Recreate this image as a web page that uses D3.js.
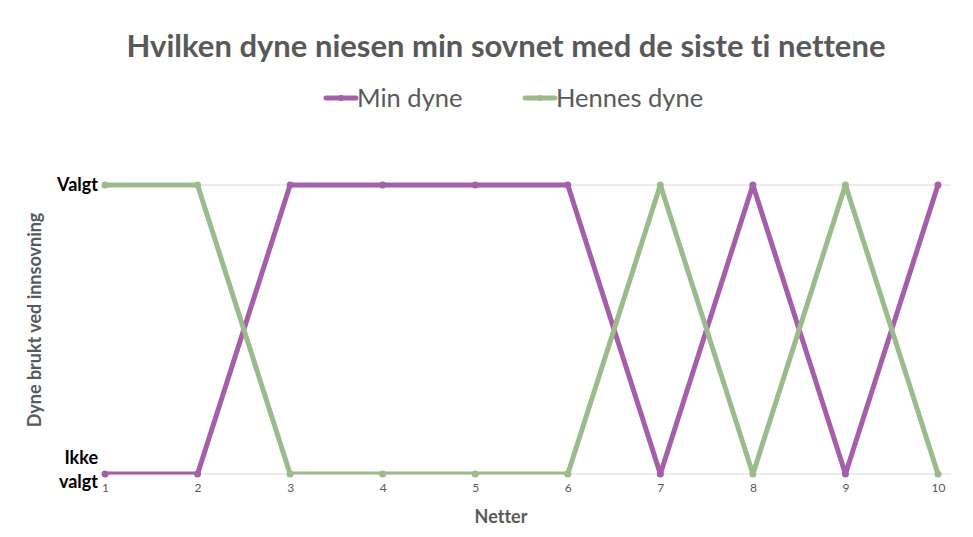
<!DOCTYPE html>
<html>
<head>
<meta charset="utf-8">
<script src="https://cdn.jsdelivr.net/npm/d3@7"></script>
<style>
  html, body { margin: 0; padding: 0; background: #fff; }
  svg { display: block; font-family: Lato, "Open Sans", sans-serif; font-variant-ligatures: none; }
</style>
</head>
<body>
<div id="chart"></div>
<script>
const nights = [1, 2, 3, 4, 5, 6, 7, 8, 9, 10];
const minDyne = [0, 0, 1, 1, 1, 1, 0, 1, 0, 1];
const hennesDyne = [1, 1, 0, 0, 0, 0, 1, 0, 1, 0];
const yLabels = [["Ikke", "valgt"], ["Valgt"]];

const series = [
  { name: "Min dyne", values: minDyne, color: "#a55faa" },
  { name: "Hennes dyne", values: hennesDyne, color: "#9cbb8d" }
];

const width = 973, height = 537;
const plot = { left: 105, right: 938, top: 185, bottom: 474, gridEnd: 951 };

const svg = d3.select("#chart").append("svg")
  .attr("width", width)
  .attr("height", height);

const x = d3.scaleLinear().domain([1, 10]).range([plot.left, plot.right]);
const y = d3.scaleLinear().domain([0, 1]).range([plot.bottom, plot.top]);

// title
svg.append("text")
  .attr("x", 506)
  .attr("y", 57)
  .attr("text-anchor", "middle")
  .attr("fill", "#595959")
  .style("font-size", "31px")
  .style("font-weight", "bold")
  .text("Hvilken dyne niesen min sovnet med de siste ti nettene");

// legend
const legendPos = [326, 525];
const legend = svg.append("g");
series.forEach((s, i) => {
  const g = legend.append("g").attr("transform", `translate(${legendPos[i]},98)`);
  g.append("line")
    .attr("x1", 0).attr("x2", 30)
    .attr("stroke", s.color).attr("stroke-width", 5)
    .attr("stroke-linecap", "round");
  g.append("circle").attr("cx", 15).attr("r", 3).attr("fill", s.color);
  g.append("text")
    .attr("x", 31)
    .attr("y", 9)
    .attr("fill", "#595959")
    .style("font-size", "25.5px")
    .text(s.name);
});

// gridlines
svg.append("g")
  .selectAll("line")
  .data([0, 1])
  .join("line")
  .attr("x1", plot.left)
  .attr("x2", plot.gridEnd)
  .attr("y1", d => y(d))
  .attr("y2", d => y(d))
  .attr("stroke", "#d9d9d9")
  .attr("stroke-width", 1);

// x axis
const xAxis = svg.append("g")
  .attr("transform", `translate(0,${plot.bottom})`)
  .call(d3.axisBottom(x).tickValues(nights).tickSize(0).tickPadding(9).tickFormat(d3.format("d")));
xAxis.select(".domain").remove();
xAxis.selectAll("text")
  .attr("fill", "#595959")
  .style("font-family", "Lato, sans-serif")
  .style("font-size", "12px");

// y axis labels
const yAxis = svg.append("g");
yLabels.forEach((lines, v) => {
  const t = yAxis.append("text")
    .attr("text-anchor", "end")
    .attr("fill", "#000")
    .style("font-size", "18px")
    .style("font-weight", "bold");
  const y0 = lines.length === 1 ? y(v) + 6 : y(v) - 10;
  lines.forEach((line, j) => {
    t.append("tspan").attr("x", 98).attr("y", y0 + j * 24).text(line);
  });
});

// axis titles
svg.append("text")
  .attr("transform", "translate(41,320) rotate(-90)")
  .attr("text-anchor", "middle")
  .attr("fill", "#595959")
  .style("font-size", "18px")
  .style("font-weight", "bold")
  .text("Dyne brukt ved innsovning");

svg.append("text")
  .attr("x", 501)
  .attr("y", 523)
  .attr("text-anchor", "middle")
  .attr("fill", "#595959")
  .style("font-size", "18px")
  .style("font-weight", "bold")
  .text("Netter");

// clip at plot bottom
svg.append("clipPath").attr("id", "plot-clip")
  .append("rect")
  .attr("x", 0).attr("y", 0)
  .attr("width", width).attr("height", plot.bottom + 0.5);

const line = d3.line()
  .x((d, i) => x(nights[i]))
  .y(d => y(d));

const lines = svg.append("g").attr("clip-path", "url(#plot-clip)");
series.forEach(s => {
  lines.append("path")
    .datum(s.values)
    .attr("fill", "none")
    .attr("stroke", s.color)
    .attr("stroke-width", 5)
    .attr("stroke-linejoin", "round")
    .attr("stroke-linecap", "round")
    .attr("d", line);
});

series.forEach(s => {
  svg.append("g")
    .selectAll("circle")
    .data(s.values)
    .join("circle")
    .attr("cx", (d, i) => x(nights[i]))
    .attr("cy", d => y(d))
    .attr("r", 3.5)
    .attr("fill", s.color);
});
</script>
</body>
</html>
